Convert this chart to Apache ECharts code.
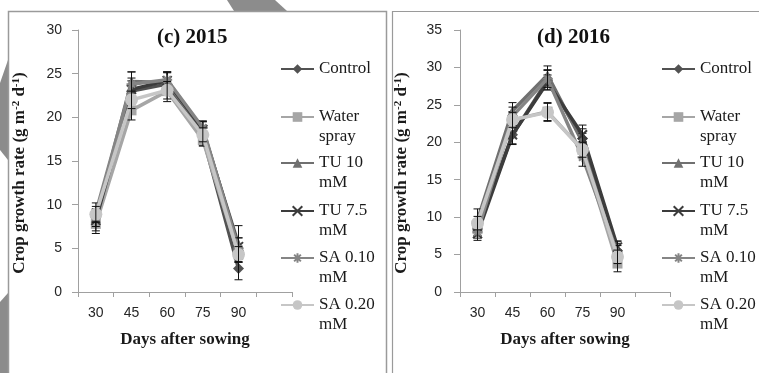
<!DOCTYPE html>
<html>
<head>
<meta charset="utf-8">
<script src="https://cdn.jsdelivr.net/npm/echarts@6/dist/echarts.min.js"></script>
<style>
  html, body { margin: 0; padding: 0; background: #fff; }
  #chart { width: 759px; height: 373px; }
</style>
</head>
<body>
<div id="chart"></div>
<script>
// Sampling dates (days after sowing); the trailing empty slot leaves room after 90
const days = ['30', '45', '60', '75', '90', ''];
const treatments = ['Control', 'Water spray', 'TU 10 mM', 'TU 7.5 mM', 'SA 0.10 mM', 'SA 0.20 mM'];
const legendLabels = ['Control', 'Water\nspray', 'TU 10\nmM', 'TU 7.5\nmM', 'SA 0.10\nmM', 'SA 0.20\nmM'];
const yTicks2015 = { min: 0, max: 30, interval: 5 };
const yTicks2016 = { min: 0, max: 35, interval: 5 };

// Crop growth rate, 2015 (g m-2 d-1)
const control2015 = [8.5, 23.0, 23.8, 17.8, 2.7];
const water2015   = [7.8, 20.8, 23.0, 17.4, 4.3];
const tu10_2015   = [8.5, 24.1, 24.0, 18.5, 5.5];
const tu75_2015   = [8.2, 23.2, 24.2, 18.6, 5.2];
const sa010_2015  = [9.1, 23.8, 24.3, 18.8, 5.0];
const sa020_2015  = [8.9, 22.0, 23.1, 18.0, 4.3];

// Standard errors, 2015
const controlErr2015 = [1.0, 1.2, 1.3, 1.0, 1.3];
const waterErr2015   = [1.1, 1.1, 1.2, 0.7, 0.8];
const tu10Err2015    = [1.0, 1.1, 1.2, 1.0, 2.1];
const tu75Err2015    = [1.2, 1.3, 1.0, 0.9, 1.0];
const sa010Err2015   = [1.1, 1.4, 0.9, 0.8, 1.2];
const sa020Err2015   = [0.9, 1.0, 1.0, 0.8, 0.9];

// Crop growth rate, 2016 (g m-2 d-1)
const control2016 = [8.5, 21.0, 28.3, 20.5, 5.5];
const water2016   = [8.4, 23.0, 24.1, 19.0, 3.8];
const tu10_2016   = [9.6, 24.2, 29.0, 20.0, 5.8];
const tu75_2016   = [7.8, 21.0, 28.0, 21.0, 6.0];
const sa010_2016  = [8.0, 23.5, 28.5, 18.0, 5.2];
const sa020_2016  = [9.2, 23.0, 24.0, 19.0, 4.7];

// Standard errors, 2016
const controlErr2016 = [1.0, 1.2, 1.3, 1.3, 1.0];
const waterErr2016   = [0.9, 1.1, 1.2, 1.1, 1.1];
const tu10Err2016    = [1.5, 1.1, 1.2, 1.2, 1.0];
const tu75Err2016    = [0.9, 1.3, 1.0, 1.3, 0.8];
const sa010Err2016   = [0.8, 1.2, 1.2, 1.2, 1.0];
const sa020Err2016   = [0.9, 1.0, 1.2, 1.0, 0.9];

const means2015 = [control2015, water2015, tu10_2015, tu75_2015, sa010_2015, sa020_2015];
const errs2015 = [controlErr2015, waterErr2015, tu10Err2015, tu75Err2015, sa010Err2015, sa020Err2015];
const means2016 = [control2016, water2016, tu10_2016, tu75_2016, sa010_2016, sa020_2016];
const errs2016 = [controlErr2016, waterErr2016, tu10Err2016, tu75Err2016, sa010Err2016, sa020Err2016];

// Marker shapes and grey shades for each treatment
const crossPath = 'path://M0,0L10,10M10,0L0,10';
const starPath = 'path://M0,5L10,5M5,0L5,10M1.5,1.5L8.5,8.5M8.5,1.5L1.5,8.5';
const looks = [
  { color: '#525252', symbol: 'diamond',  size: 11 },
  { color: '#a6a6a6', symbol: 'rect',     size: 10 },
  { color: '#707070', symbol: 'triangle', size: 10 },
  { color: '#3c3c3c', symbol: crossPath,  size: 9,  stroke: true },
  { color: '#858585', symbol: starPath,   size: 10, stroke: true },
  { color: '#c6c6c6', symbol: 'circle',   size: 13 }
];

const serif = 'Liberation Serif';
const sans = 'Liberation Sans';

function lineSeries(g, means) {
  return means.map((vals, i) => ({
    name: treatments[i],
    type: 'line',
    xAxisIndex: g,
    yAxisIndex: g,
    data: vals,
    symbol: looks[i].symbol,
    symbolSize: looks[i].size,
    showAllSymbol: true,
    lineStyle: { color: looks[i].color, width: 3.5 },
    itemStyle: {
      color: looks[i].stroke ? 'rgba(0,0,0,0)' : looks[i].color,
      borderColor: looks[i].color,
      borderWidth: looks[i].stroke ? 2 : 0
    },
    z: 2 + 2 * i,
    emphasis: { disabled: true }
  }));
}

function errorSeries(g, means, errs) {
  return means.map((vals, i) => ({
    type: 'custom',
    xAxisIndex: g,
    yAxisIndex: g,
    silent: true,
    z: 3 + 2 * i,
    data: vals.map((v, j) => [j, v - errs[i][j], v + errs[i][j]]),
    encode: { x: 0, y: [1, 2] },
    renderItem(params, api) {
      const x = api.value(0);
      const lo = api.coord([x, api.value(1)]);
      const hi = api.coord([x, api.value(2)]);
      const w = 4;
      const st = { stroke: '#111', lineWidth: 1 };
      return {
        type: 'group',
        children: [
          { type: 'line', shape: { x1: lo[0], y1: lo[1], x2: hi[0], y2: hi[1] }, style: st },
          { type: 'line', shape: { x1: lo[0] - w, y1: lo[1], x2: lo[0] + w, y2: lo[1] }, style: st },
          { type: 'line', shape: { x1: hi[0] - w, y1: hi[1], x2: hi[0] + w, y2: hi[1] }, style: st }
        ]
      };
    }
  }));
}

// One legend per entry so each marker sits level with the first line of its label.
// Every label is padded to three lines (blank / first / second) so the icon,
// which is centred on the text block, lines up with the first word.
const legendTops = [39, 87, 133, 181, 228, 275];
function legends(left) {
  return treatments.map((name, i) => {
    const parts = legendLabels[i].split('\n');
    const text = ' \n' + parts[0] + '\n' + (parts[1] || ' ');
    return {
      left: left,
      top: legendTops[i],
      orient: 'vertical',
      padding: 0,
      itemWidth: 33,
      itemHeight: 12,
      selectedMode: false,
      data: [name],
      formatter: () => text,
      textStyle: { fontFamily: serif, fontSize: 17, color: '#1a1a1a', lineHeight: 20 }
    };
  });
}

const axisGrey = '#a0a0a0';
function xAxis(g) {
  return {
    type: 'category',
    gridIndex: g,
    data: days,
    boundaryGap: true,
    axisLine: { lineStyle: { color: axisGrey, width: 1 } },
    axisTick: { show: true, length: 5, lineStyle: { color: axisGrey } },
    axisLabel: { fontFamily: sans, fontSize: 14, color: '#262626', margin: 14, interval: 0 },
    splitLine: { show: false },
    name: 'Days after sowing',
    nameLocation: 'middle',
    nameGap: 39,
    nameTextStyle: { fontFamily: serif, fontWeight: 'bold', fontSize: 17, color: '#1a1a1a' }
  };
}
function yAxis(g, ticks, margin) {
  return {
    type: 'value',
    gridIndex: g,
    min: ticks.min,
    max: ticks.max,
    interval: ticks.interval,
    axisLine: { show: true, lineStyle: { color: axisGrey, width: 1 } },
    axisTick: { show: true, length: 6, lineStyle: { color: axisGrey } },
    axisLabel: { fontFamily: sans, fontSize: 14, color: '#262626', margin: margin },
    splitLine: { show: false },
    name: 'Crop growth rate (g m{sup|-2} d{sup|-1})',
    nameLocation: 'middle',
    nameRotate: 90,
    nameGap: 50,
    nameTextStyle: {
      fontFamily: serif, fontWeight: 'bold', fontSize: 17, color: '#1a1a1a',
      padding: [0, 24, 0, 0],
      rich: {
        sup: { fontFamily: serif, fontWeight: 'bold', fontSize: 11, color: '#1a1a1a', verticalAlign: 'top', padding: [0, 0, 6, 0] }
      }
    }
  };
}

const titleStyle = { fontFamily: serif, fontWeight: 'bold', fontSize: 21, color: '#111' };

const option = {
  backgroundColor: '#fff',
  animation: false,
  title: [
    { text: '(c) 2015', left: 157, top: 27, padding: 0, textStyle: titleStyle },
    { text: '(d) 2016', left: 537, top: 27, padding: 0, textStyle: titleStyle }
  ],
  graphic: [
    // scanned page stripes peeking out around the panels
    { type: 'polygon', shape: { points: [[227, 0], [275, 0], [287, 11], [234, 11]] }, style: { fill: '#8c8c8c' }, silent: true },
    { type: 'polygon', shape: { points: [[0, 83], [8, 60], [8, 160], [0, 150]] }, style: { fill: '#8c8c8c' }, silent: true },
    { type: 'polygon', shape: { points: [[0, 302], [8, 293], [8, 373], [0, 373]] }, style: { fill: '#8c8c8c' }, silent: true },
    // panel frames
    { type: 'rect', shape: { x: 8.5, y: 11.5, width: 378, height: 380 }, style: { fill: 'none', stroke: '#9a9a9a', lineWidth: 1.5 }, silent: true },
    { type: 'rect', shape: { x: 392.5, y: 11.5, width: 380, height: 380 }, style: { fill: 'none', stroke: '#9a9a9a', lineWidth: 1.2 }, silent: true }
  ],
  legend: legends(280).concat(legends(661)),
  grid: [
    { left: 78, top: 30, width: 214, height: 262 },
    { left: 460, top: 30, width: 210, height: 262 }
  ],
  xAxis: [xAxis(0), xAxis(1)],
  yAxis: [yAxis(0, yTicks2015, 16), yAxis(1, yTicks2016, 18)],
  series: [].concat(
    lineSeries(0, means2015), errorSeries(0, means2015, errs2015),
    lineSeries(1, means2016), errorSeries(1, means2016, errs2016)
  )
};

const chart = echarts.init(document.getElementById('chart'), null, { renderer: 'canvas' });
chart.setOption(option);
</script>
</body>
</html>
